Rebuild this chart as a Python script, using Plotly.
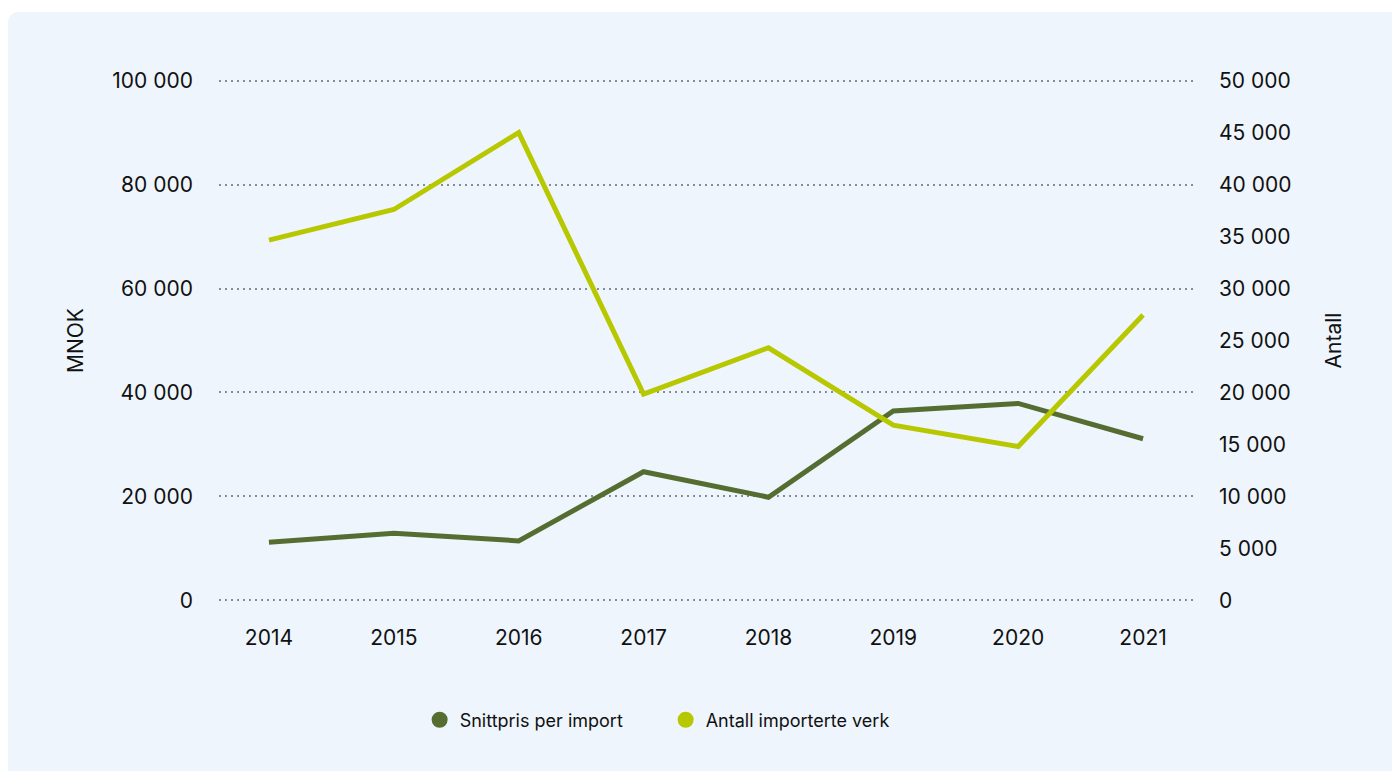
import plotly.graph_objects as go

# Data
years = ["2014", "2015", "2016", "2017", "2018", "2019", "2020", "2021"]
snittpris = [11200, 12900, 11450, 24750, 19850, 36450, 37900, 31100]   # MNOK
antall = [34650, 37600, 45000, 19850, 24300, 16850, 14800, 27450]       # count
left_ticks = [0, 20000, 40000, 60000, 80000, 100000]
right_ticks = [0, 5000, 10000, 15000, 20000, 25000, 30000, 35000, 40000, 45000, 50000]

DARK = "#566D31"
LIGHT = "#B8C800"
PANEL = "#EEF5FC"
GRID = "#868D96"
TEXT = "#111111"
FONT = "Inter"

W, H = 1392, 771
ML, MR, MT, MB = 219, 199, 78, 168
PW, PH = W - ML - MR, H - MT - MB


def px_to_paper(x, y):
    return (x - ML) / PW, (H - MB - y) / PH


# Rounded background panel (pixel geometry converted to paper coords)
r = 12
x0, y0 = 8, 12
x1, y1 = W + 5, H + 5
a = px_to_paper(x0, y1)
b = px_to_paper(x0, y0 + r)
c = px_to_paper(x0, y0)
d = px_to_paper(x0 + r, y0)
e = px_to_paper(x1, y0)
f = px_to_paper(x1, y1)
panel_path = (f"M {a[0]},{a[1]} L {b[0]},{b[1]} Q {c[0]},{c[1]} {d[0]},{d[1]} "
              f"L {e[0]},{e[1]} L {f[0]},{f[1]} Z")

fig = go.Figure()

fig.add_trace(go.Scatter(
    x=years, y=snittpris, mode="lines", name="Snittpris per import",
    line=dict(color=DARK, width=5), showlegend=False, yaxis="y"))
fig.add_trace(go.Scatter(
    x=years, y=antall, mode="lines", name="Antall importerte verk",
    line=dict(color=LIGHT, width=5), showlegend=False, yaxis="y2"))

# Legend entries shown as filled circles
fig.add_trace(go.Scatter(
    x=[None], y=[None], mode="markers", name="Snittpris per import",
    marker=dict(color=DARK, size=20), showlegend=True))
fig.add_trace(go.Scatter(
    x=[None], y=[None], mode="markers", name="Antall importerte verk",
    marker=dict(color=LIGHT, size=20), showlegend=True, yaxis="y2"))

tick_font = dict(family=FONT, size=21, color=TEXT)
title_font = dict(family=FONT, size=21, color=TEXT)
legend_font = dict(family=FONT, size=18, color=TEXT)

fig.update_layout(
    width=W, height=H,
    margin=dict(l=ML, r=MR, t=MT, b=MB, pad=0),
    paper_bgcolor="white",
    plot_bgcolor="rgba(0,0,0,0)",
    separators=", ",
    font=tick_font,
    shapes=[dict(type="path", xref="paper", yref="paper", path=panel_path,
                 fillcolor=PANEL, line=dict(width=0), layer="below")],
    xaxis=dict(
        type="category", range=[-0.4, 7.4], showgrid=False, zeroline=False,
        showline=False, ticks="", ticklabelstandoff=20, tickfont=tick_font),
    yaxis=dict(
        range=[-500, 100500], tickvals=left_ticks, tickformat=",d",
        showgrid=True, gridcolor=GRID, gridwidth=1.6, griddash="2px,4px",
        zeroline=False, showline=False, ticks="", ticklabelstandoff=25,
        tickfont=tick_font,
        title=dict(text="MNOK", standoff=22, font=title_font)),
    yaxis2=dict(
        overlaying="y", side="right", range=[-250, 50250],
        tickvals=right_ticks, tickformat=",d",
        showgrid=False, zeroline=False, showline=False,
        ticks="", ticklabelstandoff=25, tickfont=tick_font,
        title=dict(text="Antall", standoff=35, font=title_font)),
    legend=dict(
        orientation="h", x=0.206, xanchor="left", y=-0.223, yanchor="middle",
        bgcolor="rgba(0,0,0,0)", entrywidth=201, entrywidthmode="pixels",
        itemsizing="trace", font=legend_font),
    showlegend=True,
)

fig.write_html("out.html")
